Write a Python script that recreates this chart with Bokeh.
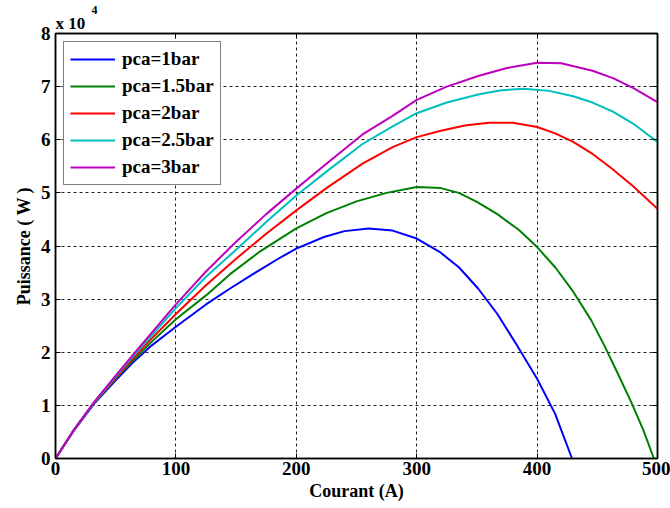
from bokeh.plotting import figure
from bokeh.models import FixedTicker, Legend, LegendItem, LinearAxis, Range1d, Title
from bokeh.embed import file_html
from bokeh.resources import INLINE

# Courant (A) and Puissance (x 10^4 W)
x_1bar = [0, 15, 32, 50, 64, 80, 100, 125, 145, 166, 185, 200, 223, 240, 260, 280, 300, 319, 335, 351, 367, 383, 400, 415, 429]
p_1bar = [0, 0.52, 1.03, 1.47, 1.8, 2.13, 2.48, 2.9, 3.2, 3.5, 3.76, 3.95, 4.17, 4.28, 4.33, 4.29, 4.14, 3.89, 3.6, 3.2, 2.72, 2.14, 1.5, 0.84, 0]

x_15bar = [0, 15, 32, 50, 65, 80, 100, 125, 145, 170, 200, 225, 250, 275, 300, 320, 335, 350, 367, 385, 400, 415, 430, 445, 456, 467, 478, 488, 497]
p_15bar = [0, 0.52, 1.04, 1.5, 1.86, 2.2, 2.62, 3.07, 3.47, 3.9, 4.33, 4.62, 4.84, 5.0, 5.11, 5.09, 5.0, 4.83, 4.6, 4.3, 3.98, 3.6, 3.14, 2.6, 2.12, 1.6, 1.07, 0.55, 0]

x_2bar = [0, 15, 32, 50, 65, 80, 100, 125, 150, 175, 200, 225, 255, 280, 300, 320, 340, 360, 380, 400, 415, 430, 445, 462, 480, 500]
p_2bar = [0, 0.53, 1.05, 1.52, 1.9, 2.26, 2.72, 3.26, 3.76, 4.23, 4.67, 5.09, 5.55, 5.86, 6.05, 6.17, 6.27, 6.32, 6.32, 6.24, 6.12, 5.96, 5.75, 5.46, 5.12, 4.7]

x_25bar = [0, 15, 32, 50, 65, 80, 100, 125, 150, 175, 200, 225, 255, 280, 300, 325, 351, 370, 389, 410, 430, 446, 463, 480, 500]
p_25bar = [0, 0.53, 1.05, 1.54, 1.94, 2.32, 2.83, 3.42, 3.93, 4.45, 4.95, 5.4, 5.92, 6.25, 6.5, 6.7, 6.85, 6.93, 6.96, 6.92, 6.82, 6.7, 6.53, 6.3, 5.96]

x_3bar = [0, 15, 32, 50, 65, 80, 100, 125, 150, 175, 200, 225, 255, 280, 300, 325, 351, 375, 400, 420, 446, 463, 480, 500]
p_3bar = [0, 0.53, 1.06, 1.56, 1.97, 2.37, 2.9, 3.52, 4.08, 4.6, 5.08, 5.55, 6.1, 6.45, 6.75, 7.0, 7.2, 7.35, 7.45, 7.44, 7.3, 7.16, 6.97, 6.71]

series_labels = ["pca=1bar", "pca=1.5bar", "pca=2bar", "pca=2.5bar", "pca=3bar"]
series_colors = ["#0000FF", "#008000", "#FF0000", "#00BFBF", "#BF00BF"]
x_ticks = [0, 100, 200, 300, 400, 500]
y_ticks = [0, 1, 2, 3, 4, 5, 6, 7, 8]

FONT = "Liberation Serif"

p = figure(width=670, height=508, output_backend="svg", toolbar_location=None,
           title_location=None,
           x_range=Range1d(0, 500), y_range=Range1d(0, 8),
           min_border_left=55, min_border_right=13, min_border_top=33, min_border_bottom=50)
p.background_fill_color = "white"
p.border_fill_color = "white"
p.outline_line_color = "black"
p.outline_line_width = 1.5

xs_all = [x_1bar, x_15bar, x_2bar, x_25bar, x_3bar]
ps_all = [p_1bar, p_15bar, p_2bar, p_25bar, p_3bar]
items = []
for xs, ps, lab, col in zip(xs_all, ps_all, series_labels, series_colors):
    r = p.line(xs, ps, line_color=col, line_width=2, line_join="round")
    items.append(LegendItem(label=lab, renderers=[r]))

# axes
for ax in [p.xaxis[0], p.yaxis[0]]:
    ax.major_tick_in = 5
    ax.major_tick_out = 0
    ax.minor_tick_in = 0
    ax.minor_tick_out = 0
    ax.axis_line_color = "black"
    ax.axis_line_width = 1.5
    ax.major_label_text_font = FONT
    ax.major_label_text_font_style = "bold"
    ax.major_label_text_font_size = "19px"
    ax.major_label_text_color = "black"
    ax.axis_label_text_font = FONT
    ax.axis_label_text_font_style = "bold"
    ax.axis_label_text_font_size = "18px"
    ax.axis_label_text_color = "black"

p.xaxis[0].ticker = FixedTicker(ticks=x_ticks)
p.yaxis[0].ticker = FixedTicker(ticks=y_ticks)
p.xaxis[0].axis_label = "Courant (A)"
p.yaxis[0].axis_label = "Puissance ( W )"
p.xaxis[0].major_label_standoff = 3
p.xaxis[0].axis_label_standoff = 3
p.yaxis[0].major_label_standoff = 5
p.yaxis[0].axis_label_standoff = 4

top_ax = LinearAxis(ticker=FixedTicker(ticks=x_ticks),
                    major_label_overrides={t: "" for t in x_ticks},
                    major_label_standoff=0, major_label_text_font_size="10px",
                    major_tick_in=5, major_tick_out=0, minor_tick_in=0, minor_tick_out=0,
                    axis_line_color="black", axis_line_width=1.5)
right_ax = LinearAxis(ticker=FixedTicker(ticks=y_ticks),
                      major_label_overrides={t: "" for t in y_ticks},
                      major_label_standoff=0, major_label_text_font_size="10px",
                      major_tick_in=5, major_tick_out=0, minor_tick_in=0, minor_tick_out=0,
                      axis_line_color="black", axis_line_width=1.5)
p.add_layout(top_ax, "above")
p.add_layout(right_ax, "right")

# exponent marker above the frame
p.add_layout(Title(text="x 10", align="left", offset=0, standoff=2,
                   text_font=FONT, text_font_style="bold", text_font_size="17px",
                   text_color="black"), "above")
p.add_layout(Title(text="4", align="left", offset=36, standoff=-7,
                   text_font=FONT, text_font_style="bold", text_font_size="12px",
                   text_color="black"), "above")

# grid
for g in [p.xgrid[0], p.ygrid[0]]:
    g.grid_line_color = "#222222"
    g.grid_line_dash = "3 3"
    g.grid_line_width = 1
p.xgrid[0].ticker = FixedTicker(ticks=x_ticks)
p.ygrid[0].ticker = FixedTicker(ticks=y_ticks)

legend = Legend(items=items, location="top_left")
legend.margin = 8
legend.padding = 6
legend.spacing = 5
legend.glyph_width = 45
legend.glyph_height = 20
legend.label_height = 20
legend.label_standoff = 7
legend.label_text_font = FONT
legend.label_text_font_style = "bold"
legend.label_text_font_size = "19px"
legend.label_text_color = "black"
legend.border_line_color = "black"
legend.border_line_width = 1.5
legend.background_fill_color = "white"
legend.background_fill_alpha = 1
p.add_layout(legend, "center")

open("out.html", "w").write(file_html(p, INLINE))
